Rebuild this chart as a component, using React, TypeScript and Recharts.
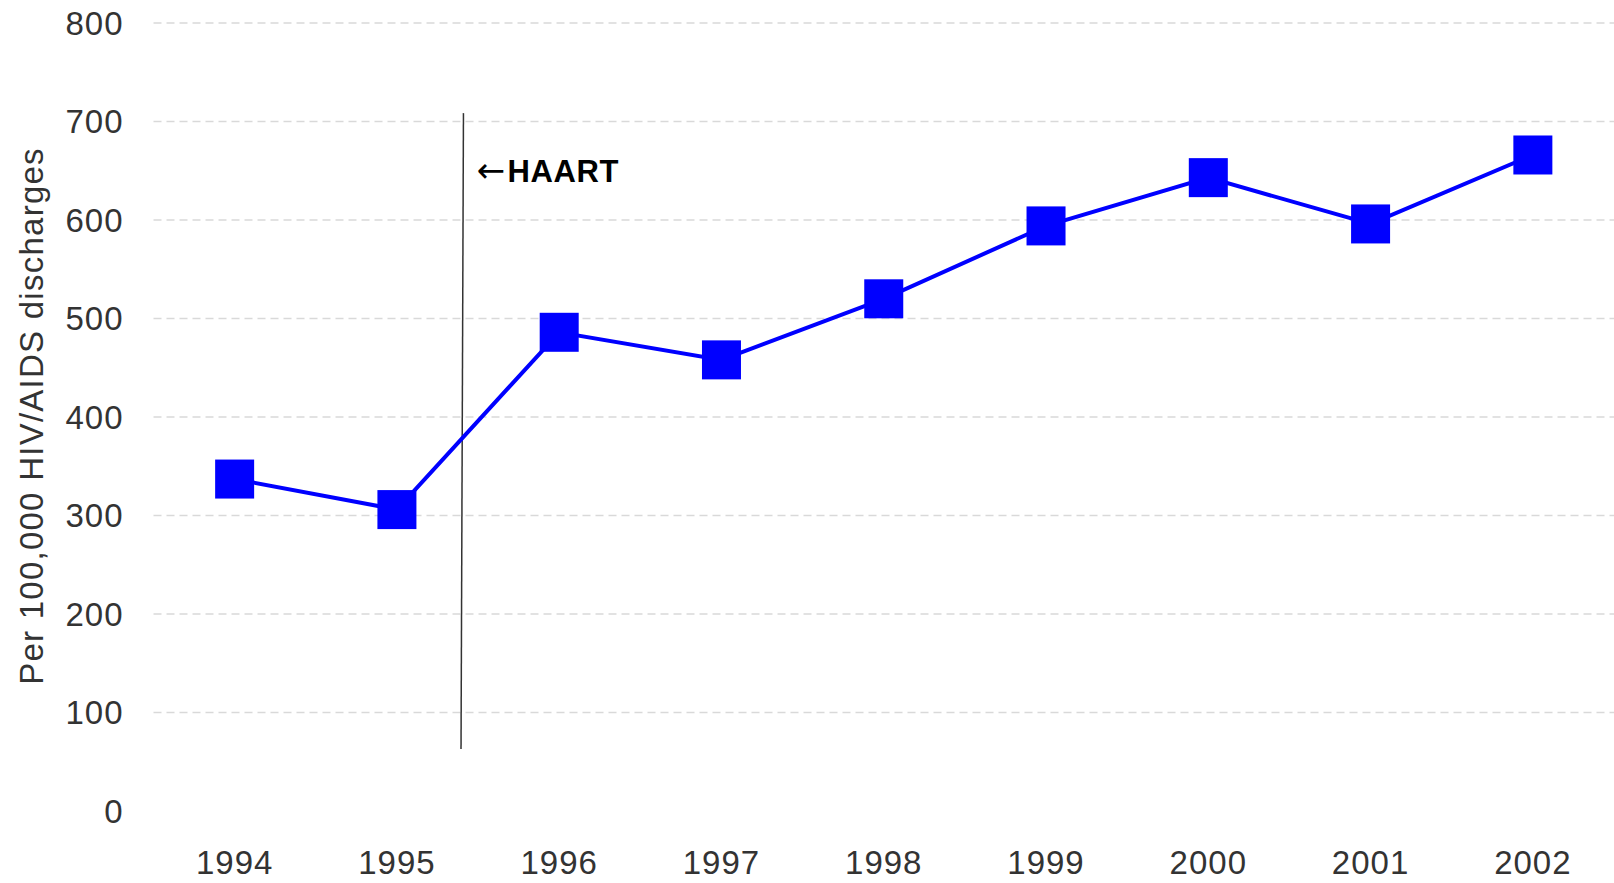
import React from 'react';
import {
  LineChart,
  Line,
  XAxis,
  YAxis,
  CartesianGrid,
  ReferenceLine,
  ReferenceDot,
} from 'recharts';

// ---- data ----
const years = [1994, 1995, 1996, 1997, 1998, 1999, 2000, 2001, 2002];
const rates = [337, 306, 486, 458, 520, 594, 643, 596, 666];
const yTicks = [0, 100, 200, 300, 400, 500, 600, 700, 800];
const gridValues = yTicks.filter((v) => v > 0);
const yTitle = 'Per 100,000 HIV/AIDS discharges';
const haartArrow = '\u2190';
const haartText = 'HAART';
const haartSegment = [
  { x: 1995.41, y: 708.5 },
  { x: 1995.395, y: 63 },
];
const haartLabelAt = { x: 1995.49, y: 639 };

const data = years.map((year, i) => ({ year, rate: rates[i] }));

const MARKER = 39;

const SquareDot = (props: any) => {
  const { cx, cy } = props;
  if (cx == null || cy == null) return null;
  return (
    <rect
      x={cx - MARKER / 2}
      y={cy - MARKER / 2}
      width={MARKER}
      height={MARKER}
      fill="#0000ff"
      stroke="none"
    />
  );
};

const tickStyle = {
  fill: '#333333',
  fontSize: 33,
  fontFamily: '"Liberation Sans", Arial, sans-serif',
  letterSpacing: 1,
};

export default function App() {
  return (
    <div
      style={{
        position: 'absolute',
        left: 0,
        top: 0,
        width: 1614,
        height: 883,
        overflow: 'hidden',
        background: '#ffffff',
      }}
    >
      <LineChart
        width={1614}
        height={883}
        data={data}
        margin={{ top: 23, right: 0, bottom: 0, left: 0 }}
      >
        <CartesianGrid
          vertical={false}
          horizontalValues={gridValues}
          stroke="#d9d9d9"
          strokeWidth={1.5}
          strokeDasharray="8 5"
        />
        <XAxis
          dataKey="year"
          type="number"
          domain={[1993.5, 2002.5]}
          ticks={years}
          axisLine={false}
          tickLine={false}
          tickSize={8}
          tickMargin={32}
          height={72}
          tick={tickStyle}
          interval={0}
        />
        <YAxis
          domain={[0, 800]}
          ticks={yTicks}
          axisLine={false}
          tickLine={false}
          tickSize={8}
          tickMargin={22}
          width={153.5}
          tick={tickStyle}
          interval={0}
          label={{
            content: () => (
              <text
                x={31}
                y={416}
                transform="rotate(-90 31 416)"
                textAnchor="middle"
                dominantBaseline="central"
                fill="#333333"
                fontSize={33}
                letterSpacing={1.25}
                fontFamily='"Liberation Sans", Arial, sans-serif'
              >
                {yTitle}
              </text>
            ),
          }}
        />
        <ReferenceLine
          segment={haartSegment}
          stroke="#333333"
          strokeWidth={1.5}
          ifOverflow="visible"
        />
        <ReferenceDot
          x={haartLabelAt.x}
          y={haartLabelAt.y}
          r={0}
          fill="none"
          stroke="none"
          ifOverflow="visible"
          label={{
            content: (p: any) => {
              const vb = p.viewBox || {};
              return (
                <text
                  x={vb.x}
                  y={vb.y}
                  fill="#000000"
                  fontSize={31}
                  fontWeight="bold"
                  letterSpacing={0.6}
                  fontFamily='"Liberation Sans", Arial, sans-serif'
                >
                  <tspan fontFamily='"DejaVu Sans", sans-serif' fontSize={34} fontWeight="normal">
                    {haartArrow}
                  </tspan>
                  <tspan dx={2}>{haartText}</tspan>
                </text>
              );
            },
          }}
        />
        <Line
          type="linear"
          dataKey="rate"
          stroke="#0000ff"
          strokeWidth={4}
          dot={<SquareDot />}
          activeDot={false}
          isAnimationActive={false}
        />
      </LineChart>
    </div>
  );
}
